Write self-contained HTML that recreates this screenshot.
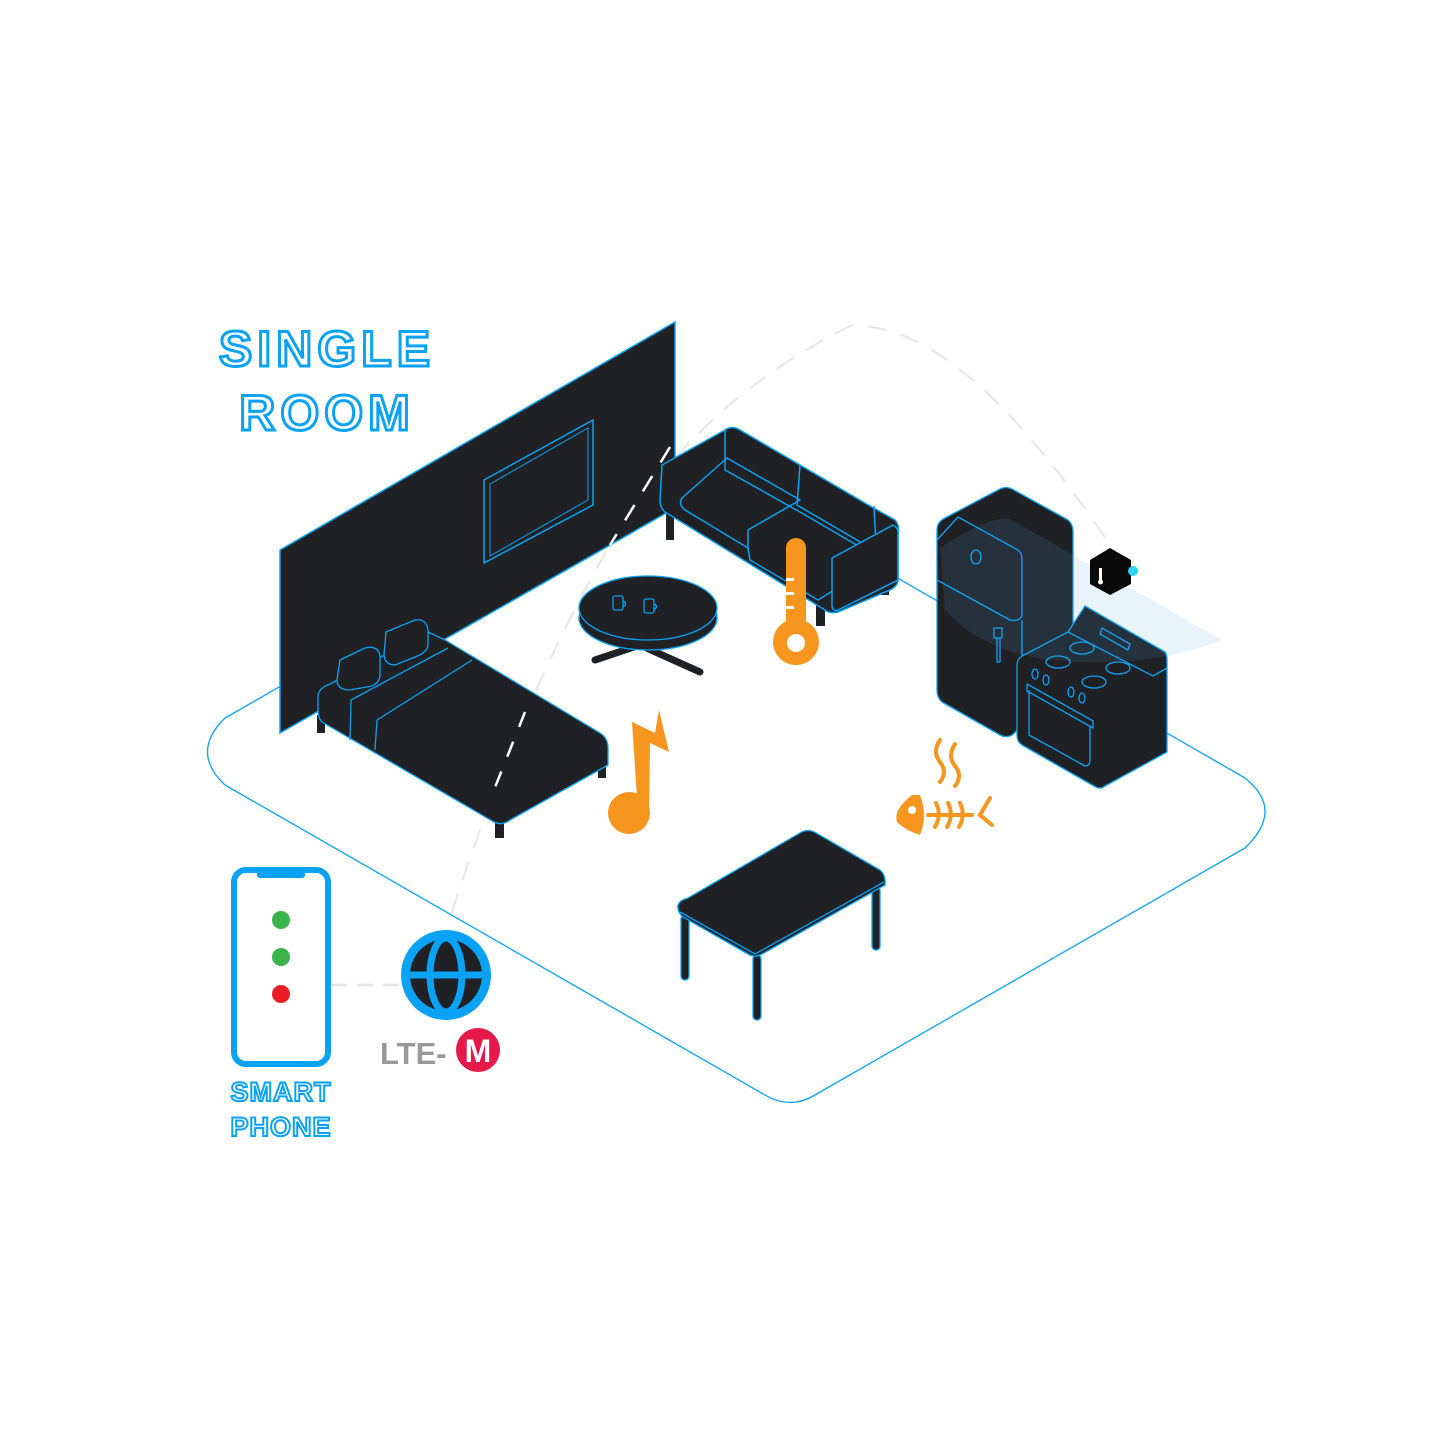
<!DOCTYPE html>
<html><head><meta charset="utf-8"><style>
html,body{margin:0;padding:0;background:#fff;}
svg{display:block}
.t{font-family:"Liberation Sans",sans-serif;font-weight:bold;fill:#fff;stroke:#0aa2f5;text-anchor:middle}
</style></head><body>
<svg width="1445" height="1445" viewBox="0 0 1445 1445" xmlns="http://www.w3.org/2000/svg">
<g fill="none" stroke-linecap="round" stroke-linejoin="round">
<path d="M225,718 L660,469 Q684,455 708,469 L1245,778 Q1285,810 1245,848 L815,1095 Q790,1110 765,1095 L225,785 Q190,752 225,718 Z" stroke="#0aa2f5" stroke-width="1.3"/>
<path d="M332,985 L400,985" stroke="#e6e6e6" stroke-width="2.5" stroke-dasharray="14,12"/>
<path d="M452,912 Q520,700 610,545 Q700,400 850,326 Q960,320 1110,545" stroke="#e6e6e6" stroke-width="2" stroke-dasharray="18,16"/>
</g>
<polygon points="280,550 675,322 675,508 280,733" fill="#202124" stroke="#0aa2f5" stroke-width="1.5"/>
<polygon points="484,480 593,420 593,505 484,563" fill="none" stroke="#0aa2f5" stroke-width="1.5"/>
<polygon points="490,484 588,428 588,500 490,556" fill="none" stroke="#0aa2f5" stroke-width="1"/>
<path d="M670,447 L610,545" stroke="#fff" stroke-width="2.5" stroke-dasharray="18,16" fill="none"/>
<g stroke="#0aa2f5" stroke-width="1.5" fill="#202124" stroke-linejoin="round">
<rect x="666" y="510" width="8" height="30" stroke="none"/>
<rect x="816" y="590" width="9" height="36" stroke="none"/>
<rect x="881" y="575" width="8" height="20" stroke="none"/>
<path d="M662,465 L725,430 Q732,425 740,430 L800,465 L870,506 L895,520 Q900,525 898,535 L898,580 Q898,586 890,590 L838,612 Q830,614 825,610 L665,512 Q660,508 660,500 Z"/>
<path d="M725,430 L725,470 L800,512 M800,465 L797,505 L874,550 M874,506 L876,548" fill="none"/>
<path d="M682,498 Q678,505 685,510 L748,548 L748,530 L800,500 L727,458 Z" fill="none"/>
<path d="M748,548 L750,560 L818,600 L850,580 M800,512 L860,547" fill="none"/>
<path d="M832,558 L893,525 Q899,528 898,535 L898,580 L838,610 Q832,612 832,605 Z"/>
</g>
<g stroke="#0aa2f5" stroke-width="1.3" fill="#202124">
<path d="M595,660 L640,645 L700,672" stroke="#202124" stroke-width="7" fill="none" stroke-linecap="round"/>
<ellipse cx="648" cy="618" rx="69" ry="32"/>
<ellipse cx="648" cy="608" rx="69" ry="32"/>
<g fill="none"><rect x="613" y="596" width="10" height="14" rx="2"/><path d="M623,601 q5,2 0,6"/><rect x="644" y="599" width="10" height="14" rx="2"/><path d="M654,604 q5,2 0,6"/></g>
</g>
<g stroke="#0aa2f5" stroke-width="1.3" fill="#202124" stroke-linejoin="round">
<rect x="317" y="715" width="8" height="18" fill="#202124" stroke="none"/>
<rect x="495" y="820" width="9" height="18" fill="#202124" stroke="none"/>
<rect x="598" y="760" width="8" height="18" fill="#202124" stroke="none"/>
<path d="M330,684 L428,632 L445,640 L600,733 Q608,738 608,748 L608,765 L510,820 Q502,826 494,822 L322,722 Q318,718 318,710 L318,697 Q318,688 330,684 Z"/>
<path d="M350,740 L351,700 L448,648 M375,750 L377,720 L472,660" fill="none"/>
<path d="M340,660 L365,648 Q377,645 380,655 L380,675 Q380,682 372,686 L350,690 Q337,690 337,680 Z"/>
<path d="M386,632 L415,620 Q426,618 428,630 L428,645 Q428,650 420,655 L395,665 Q385,665 384,655 Z"/>
</g>
<path d="M525,712 L490,800" stroke="#fff" stroke-width="2.5" stroke-dasharray="16,16" fill="none"/>
<g stroke="#0aa2f5" stroke-width="1.3" fill="#202124">
<rect x="681" y="915" width="8" height="65" rx="4"/>
<rect x="753" y="955" width="8" height="65" rx="4"/>
<rect x="872" y="887" width="8" height="63" rx="4"/>
<path d="M688,898 L800,833 Q808,828 816,833 L880,870 Q886,875 885,885 L762,954 Q755,958 748,954 L683,917 Q677,912 678,905 Q680,900 688,898 Z"/>
<path d="M680,912 L755,954 L884,882" fill="none"/>
</g>
<g stroke="#0aa2f5" stroke-width="1.3" fill="#202124" stroke-linejoin="round">
<path d="M945,518 L1000,489 Q1006,486 1012,489 L1068,520 Q1073,524 1073,532 L1073,700 L1017,730 Q1010,740 1000,735 L942,702 Q937,698 937,690 L937,530 Q937,522 945,518 Z"/>
<path d="M937,540 L958,517 L1018,550 Q1022,553 1022,560 L1022,615 Q1020,622 1010,620 L937,580" fill="none"/>
<ellipse cx="976" cy="557" rx="5" ry="7" fill="none"/>
<rect x="994" y="628" width="8" height="10" fill="none"/><rect x="997" y="638" width="3" height="24" fill="none"/>
<path d="M1022,620 L1022,700" fill="none"/>
</g>
<g stroke="#0aa2f5" stroke-width="1.3" fill="#202124" stroke-linejoin="round">
<path d="M1022,656 L1068,632 L1085,606 L1165,652 Q1167,655 1167,660 L1167,752 L1105,786 Q1100,790 1094,786 L1022,745 Q1017,742 1017,735 L1017,665 Q1017,659 1022,656 Z"/>
<path d="M1068,632 L1153,676 L1167,668" fill="none"/>
<polygon points="1102,628 1130,644 1128,650 1100,634" fill="none"/>
<ellipse cx="1058" cy="662" rx="12" ry="6" fill="none"/><ellipse cx="1082" cy="648" rx="12" ry="6" fill="none"/>
<ellipse cx="1094" cy="682" rx="12" ry="6" fill="none"/><ellipse cx="1118" cy="668" rx="12" ry="6" fill="none"/>
<ellipse cx="1035" cy="674" rx="3" ry="5" fill="none"/><ellipse cx="1046" cy="680" rx="3" ry="5" fill="none"/>
<ellipse cx="1071" cy="692" rx="3" ry="5" fill="none"/><ellipse cx="1082" cy="698" rx="3" ry="5" fill="none"/>
<polygon points="1027,684 1093,721 1093,728 1027,691" fill="none"/>
<path d="M1029,690 L1029,735 L1085,766 Q1090,766 1090,760 L1090,726" fill="none"/>
</g>
<path d="M940,548 Q990,515 1010,519 L1222,640 Q1160,665 1080,662 Q990,660 945,610 Z" fill="#4aa8e8" opacity="0.13"/>
<polygon points="1110,548 1131,560 1131,584 1110,595 1090,584 1090,560" fill="#0a0a0a"/>
<rect x="1099" y="568" width="3" height="12" fill="#fff"/><circle cx="1100.5" cy="582" r="2.5" fill="#fff"/>
<circle cx="1133" cy="571" r="5" fill="#2fd2ee"/>
<g fill="#f7961f">
<rect x="786" y="538" width="20" height="95" rx="10"/>
<circle cx="796" cy="642" r="23"/>
<circle cx="796" cy="643" r="9" fill="#fff"/>
<rect x="786" y="578" width="8" height="3" fill="#fff"/><rect x="786" y="592" width="8" height="3" fill="#fff"/><rect x="786" y="606" width="8" height="3" fill="#fff"/>
<path d="M632,722 L655,733 L659,710 L669,752 L650,743 L649,813 L638,813 Z"/>
<circle cx="629" cy="813" r="21"/>
<path d="M912,795 Q893,810 897,822 Q905,830 920,835 Q928,815 920,795 Z"/>
<circle cx="912" cy="810" r="4" fill="#fff"/>
</g>
<g stroke="#f7961f" stroke-width="4" fill="none" stroke-linecap="round">
<path d="M940,740 Q932,752 940,762 Q948,772 940,782"/>
<path d="M955,744 Q947,756 955,766 Q963,776 955,786"/>
<path d="M928,815 L972,815 M936,803 Q942,815 935,827 M948,803 Q954,815 947,827 M960,803 Q966,815 959,827 M990,798 L980,815 L992,825"/>
</g>
<rect x="234" y="870" width="94" height="194" rx="12" fill="#fff" stroke="#0aa2f5" stroke-width="6"/>
<rect x="257" y="870" width="48" height="8" rx="3" fill="#0aa2f5"/>
<circle cx="281" cy="920" r="9" fill="#3bb24b"/><circle cx="281" cy="957" r="9" fill="#3bb24b"/><circle cx="281" cy="994" r="9" fill="#ea1c24"/>
<circle cx="446" cy="975" r="45" fill="#0aa2f5"/>
<circle cx="446" cy="975" r="36" fill="#202124"/>
<g stroke="#0aa2f5" stroke-width="7" fill="none"><ellipse cx="446" cy="975" rx="16" ry="37"/><line x1="408" y1="975" x2="484" y2="975"/></g>
<text x="380" y="1064" font-family="Liberation Sans,sans-serif" font-weight="bold" font-size="31" fill="#999">LTE-</text>
<circle cx="478" cy="1050" r="22" fill="#e5194a"/>
<text x="478" y="1062" font-family="Liberation Sans,sans-serif" font-weight="bold" font-size="32" fill="#fff" text-anchor="middle">M</text>
<text class="t" x="327" y="366" font-size="50" stroke-width="3" letter-spacing="5">SINGLE</text>
<text class="t" x="327" y="430" font-size="50" stroke-width="3" letter-spacing="5">ROOM</text>
<text class="t" x="281" y="1101" font-size="27" stroke-width="2" letter-spacing="1">SMART</text>
<text class="t" x="281" y="1136" font-size="27" stroke-width="2" letter-spacing="1">PHONE</text>
</svg>
</body></html>
